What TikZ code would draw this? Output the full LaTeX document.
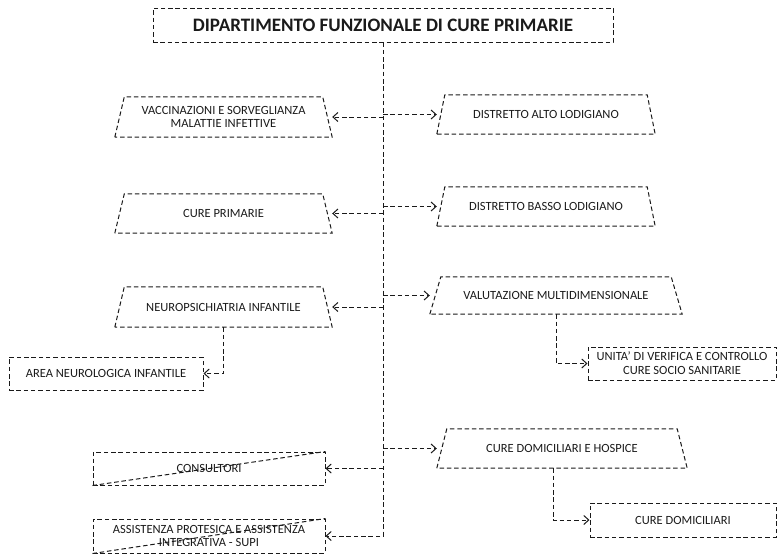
\documentclass[tikz,border=0pt]{standalone}
\usepackage{fontspec}
\setmainfont{Carlito}
\usetikzlibrary{arrows.meta}

\definecolor{ink}{HTML}{1A1A1A}

\tikzset{
  dline/.style={draw=ink, line width=1pt, dash pattern=on 4.5pt off 2.8pt},
  conn/.style={dline, -{Straight Barb[length=5pt,width=9pt]}},
  label/.style={text=ink, font=\fontsize{12.5}{13.8}\selectfont, align=center, inner sep=0pt},
  trapbox/.style={label, draw=none},
  rectbox/.style={label, dline},
  titlebox/.style={rectbox, font=\fontsize{19}{20}\selectfont\bfseries},
}

% trapezium wider at the bottom: name, x, y, width, height, top inset, text
\newcommand\trapnode[7]{%
  \node[trapbox, minimum width=#4pt, minimum height=#5pt] (#1) at (#2,#3) {#7};
  \draw[dline] (#1.south west) -- ([xshift=#6pt]#1.north west)
    -- ([xshift=-#6pt]#1.north east) -- (#1.south east) -- cycle;}

\begin{document}
\begin{tikzpicture}[x=1pt, y=-1pt]
  \useasboundingbox (0,0) rectangle (777,555);

  % head of the department
  \node[titlebox, minimum width=460pt, minimum height=34pt] (top) at (383,25)
    {DIPARTIMENTO FUNZIONALE DI CURE PRIMARIE};

  % left column
  \trapnode{vacc}{223.5}{117}{217}{40}{9.5}{VACCINAZIONI E SORVEGLIANZA\\MALATTIE INFETTIVE}
  \trapnode{cprim}{223.5}{213.5}{217}{39}{9.5}{CURE PRIMARIE}
  \trapnode{neuro}{223.5}{307}{217}{40}{9.5}{NEUROPSICHIATRIA INFANTILE}
  \node[rectbox, minimum width=194pt, minimum height=33pt] (area) at (106,373.5)
    {AREA NEUROLOGICA INFANTILE};
  \node[rectbox, minimum width=232pt, minimum height=33pt] (cons) at (209,468.5)
    {CONSULTORI};
  \node[rectbox, minimum width=232pt, minimum height=34pt] (asst) at (209,536)
    {ASSISTENZA PROTESICA E ASSISTENZA\\INTEGRATIVA - SUPI};
  \draw[dline] (cons.south west) -- (cons.north east);
  \draw[dline] (asst.south west) -- (asst.north east);

  % right column
  \trapnode{alto}{546}{114.5}{218}{39}{8}{DISTRETTO ALTO LODIGIANO}
  \trapnode{basso}{546}{206.5}{218}{39}{8}{DISTRETTO BASSO LODIGIANO}
  \trapnode{val}{556}{295.5}{252}{37}{11}{VALUTAZIONE MULTIDIMENSIONALE}
  \node[rectbox, minimum width=188pt, minimum height=33pt] (unita) at (682,363.5)
    {UNITA’ DI VERIFICA E CONTROLLO\\CURE SOCIO SANITARIE};
  \trapnode{hosp}{562}{448.5}{250}{39}{10}{CURE DOMICILIARI E HOSPICE}
  \node[rectbox, minimum width=186pt, minimum height=34pt] (cdom) at (683,520)
    {CURE DOMICILIARI};

  % trunk and branches
  \draw[conn] (top.south) |- (asst.east);
  \foreach \n in {vacc, cprim, neuro, cons}
    \draw[conn] (top.south |- \n.east) -- (\n.east);
  \foreach \n in {alto, basso, val, hosp}
    \draw[conn] (top.south |- \n.west) -- (\n.west);

  % second-level links
  \draw[conn] (neuro.south) |- (area.east);
  \draw[conn] (val.south) |- (unita.west);
  \coordinate (hospdrop) at ([xshift=-9pt]hosp.south);
  \draw[conn] (hospdrop) |- (cdom.west);
\end{tikzpicture}
\end{document}
